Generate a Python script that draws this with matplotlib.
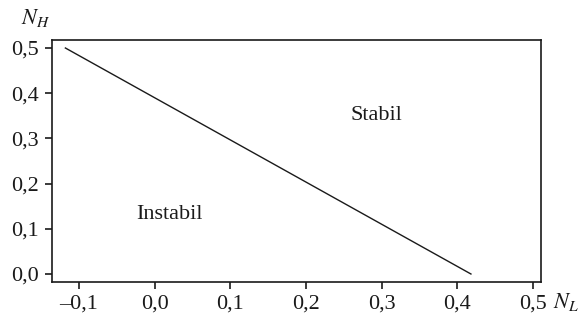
import matplotlib
matplotlib.use("Agg")
import matplotlib.pyplot as plt
from matplotlib.ticker import FuncFormatter

line_x = [-0.118, 0.418]
line_y = [0.5, 0.0]
x_ticks = [-0.1, 0.0, 0.1, 0.2, 0.3, 0.4, 0.5]
y_ticks = [0.0, 0.1, 0.2, 0.3, 0.4, 0.5]
region_labels = ["Stabil", "Instabil"]
region_pos = [(0.293, 0.351), (0.02, 0.132)]

plt.rcParams['font.family'] = ['Liberation Serif', 'DejaVu Serif']

fig = plt.figure(figsize=(5.85, 3.21), dpi=100)
ax = fig.add_axes([52/585, 1-282/321, (541-52)/585, (282-40)/321])

ax.plot(line_x, line_y, color='#1a1a1a', lw=1.0)
ax.set_xlim(-0.1357, 0.5106)
ax.set_ylim(-0.0177, 0.5177)
ax.set_xticks(x_ticks)
ax.set_yticks(y_ticks)

def fmt(v, pos):
    s = f"{abs(v):.1f}".replace('.', ',')
    return ('\u2013' + s) if v < -1e-9 else s

ax.xaxis.set_major_formatter(FuncFormatter(fmt))
ax.yaxis.set_major_formatter(FuncFormatter(fmt))
ax.tick_params(direction='out', length=5.3, width=1.2, labelsize=16,
               colors='#1a1a1a')
ax.tick_params(axis='y', pad=4.3)
ax.tick_params(axis='x', pad=3.5)
for sp in ax.spines.values():
    sp.set_linewidth(1.2)
    sp.set_color('#1a1a1a')

for lab, (x, y) in zip(region_labels, region_pos):
    ax.text(x, y, lab, fontsize=16, ha='center', va='center', color='#1a1a1a')

fig.text(36/585, 1-18/321, r'$N_H$', fontsize=16, ha='center', va='center',
         math_fontfamily='stix', color='#1a1a1a')
fig.text(566/585, 1-302/321, r'$N_L$', fontsize=16, ha='center', va='center',
         math_fontfamily='stix', color='#1a1a1a')

fig.savefig('out.png', dpi=100)
